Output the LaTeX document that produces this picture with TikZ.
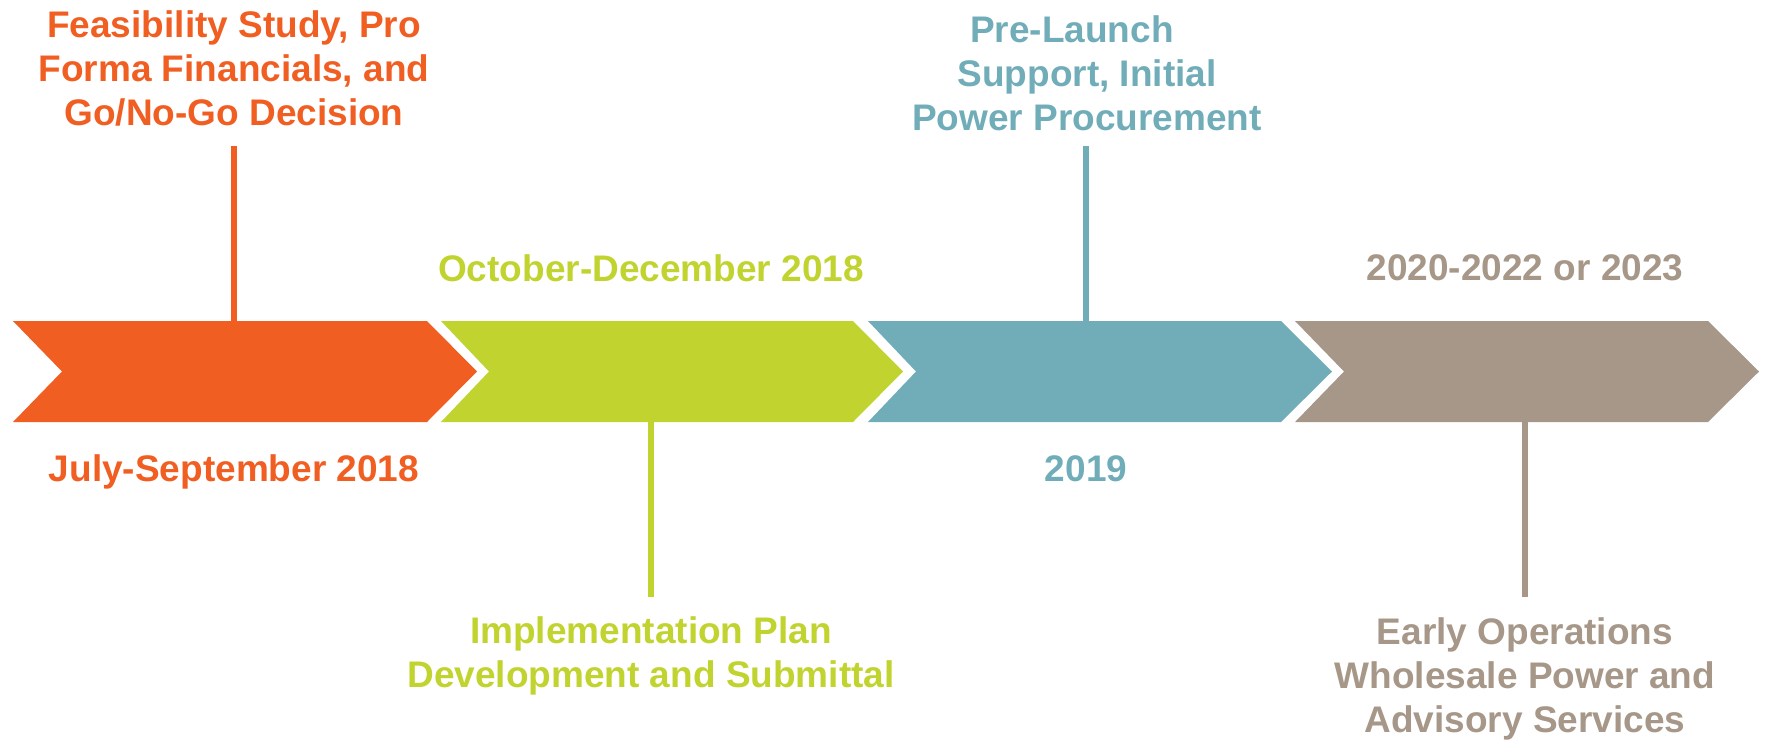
\documentclass[tikz,border=0pt]{standalone}
\usepackage{fontspec}
\setmainfont{Liberation Sans}
\definecolor{corange}{RGB}{241,94,34}
\definecolor{cgreen}{RGB}{193,211,47}
\definecolor{cteal}{RGB}{112,173,185}
\definecolor{ctaupe}{RGB}{166,151,136}
\tikzset{
  lbl/.style={inner sep=0pt, align=center, font=\fontsize{37}{44}\selectfont\bfseries},
  stem/.style={line width=6pt},
}
\begin{document}
\begin{tikzpicture}[x=1pt,y=-1pt]
\useasboundingbox (0,0) rectangle (1765,740);
% chevrons
\fill[corange] (13,321) -- (427,321) -- (477,371.5) -- (427,422) -- (13,422) -- (62,371.5) -- cycle;
\fill[cgreen] (441,321) -- (853,321) -- (903,371.5) -- (853,422) -- (441,422) -- (489,371.5) -- cycle;
\fill[cteal] (868,321) -- (1281,321) -- (1332,371.5) -- (1281,422) -- (868,422) -- (916,371.5) -- cycle;
\fill[ctaupe] (1295,321) -- (1708,321) -- (1759,371.5) -- (1708,422) -- (1295,422) -- (1344,371.5) -- cycle;
% labels
\node[lbl, text=corange] (t1) at (234,68) {Feasibility Study, Pro\\Forma Financials, and\\Go/No-Go Decision};
\node[lbl, text=corange] (d1) at (234,472) {July-September 2018};
\node[lbl, text=cgreen] (d2) at (651,268) {October-December 2018};
\node[lbl, text=cgreen] (t2) at (651,656) {Implementation Plan\\Development and Submittal};
\node[lbl, text=cteal] (t3) at (1087,73) {Pre-Launch\hspace*{30pt}\\Support, Initial\\Power Procurement};
\node[lbl, text=cteal] (d3) at (1086,469) {2019};
\node[lbl, text=ctaupe] (d4) at (1525,268) {2020-2022 or 2023};
\node[lbl, text=ctaupe] (t4) at (1525,679) {Early Operations\\Wholesale Power and\\Advisory Services};
% stems
\coordinate (s1a) at (234,146); \coordinate (s1b) at (234,321);
\coordinate (s2a) at (651,422); \coordinate (s2b) at (651,597);
\coordinate (s3a) at (1086,146); \coordinate (s3b) at (1086,321);
\coordinate (s4a) at (1525,422); \coordinate (s4b) at (1525,597);
\draw[stem, corange] (s1a) -- (s1b);
\draw[stem, cgreen] (s2a) -- (s2b);
\draw[stem, cteal] (s3a) -- (s3b);
\draw[stem, ctaupe] (s4a) -- (s4b);
\end{tikzpicture}
\end{document}
